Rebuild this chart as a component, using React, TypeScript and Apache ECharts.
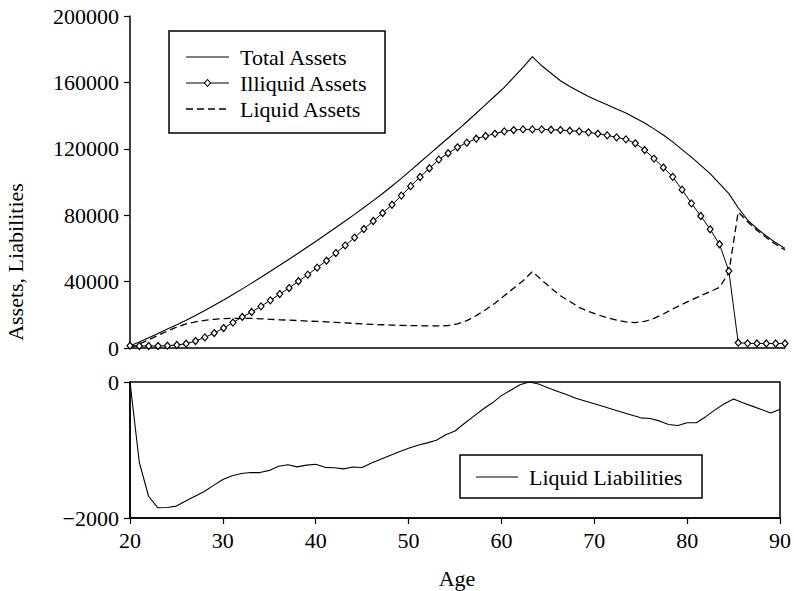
import React, { useEffect, useRef } from "react";
import * as echarts from "echarts";

const ages = [
  20, 21, 22, 23, 24, 25, 26, 27, 28, 29, 30, 31, 32, 33, 34, 35, 36, 37, 38, 39,
  40, 41, 42, 43, 44, 45, 46, 47, 48, 49, 50, 51, 52, 53, 54, 55, 56, 57, 58, 59,
  60, 61, 62, 63, 64, 65, 66, 67, 68, 69, 70, 71, 72, 73, 74, 75, 76, 77, 78, 79,
  80, 81, 82, 83, 84, 85, 86, 87, 88, 89, 90,
];

const totalAssets = [
  1400, 3600, 6200, 8800, 11400, 14000, 16700, 19600, 22600, 25700,
  28900, 32200, 35600, 39100, 42600, 46200, 49800, 53500, 57200, 61000,
  64800, 68700, 72600, 76500, 80500, 84600, 88800, 93100, 97600, 102200,
  107000, 111900, 116800, 121700, 126500, 131300, 136300, 141400, 146600, 151800,
  157000, 163000, 169000, 175500, 170000, 165500, 161000, 157500, 154500, 151500,
  149000, 146500, 144000, 141500, 138500, 135500, 132000, 128300, 124200, 119500,
  115000, 110000, 105000, 99000, 93000, 84500, 77000, 72000, 67500, 63500,
  60000,
];

const illiquidAssets = [
  1400, 1200, 1200, 1200, 1400, 1800, 2600, 4200, 6400, 9000,
  12000, 15300, 18700, 21700, 25100, 28700, 32500, 36100, 40200, 44200,
  48400, 52600, 57200, 61800, 66500, 71700, 76500, 81300, 86300, 91800,
  97500, 103000, 108300, 113500, 117300, 120900, 123700, 126100, 127700, 129100,
  130500, 131300, 131700, 131700, 131700, 131500, 131300, 130900, 130500, 129900,
  129100, 128100, 126900, 125700, 123300, 119300, 114100, 108700, 103100, 95400,
  87100, 79500, 71500, 62500, 46400, 3200, 2800, 2700, 2700, 2700,
  2700,
];

const liquidAssets = [
  0, 2400, 5000, 7600, 10200, 12600, 14500, 15800, 16700, 17300,
  17700, 17900, 17900, 17800, 17600, 17300, 17000, 16800, 16500, 16200,
  16000, 15700, 15400, 15100, 14800, 14500, 14200, 14000, 13800, 13600,
  13500, 13400, 13300, 13300, 13500, 14500, 16500, 19500, 23000, 27000,
  31500, 36000, 40500, 46000, 41000, 36000, 31500, 28000, 24500, 22000,
  20000, 18300, 16800, 15700, 15300, 16000, 17800, 20500, 23500, 26300,
  29000, 31500, 34000, 36500, 45500, 82000, 76000, 71000, 66500, 62500,
  59000,
];

const liquidLiabilities = [
  0, -1180, -1680, -1850, -1845, -1825, -1750, -1680, -1610, -1520,
  -1435, -1380, -1345, -1332, -1332, -1300, -1240, -1218, -1248, -1222,
  -1210, -1255, -1260, -1278, -1250, -1258, -1190, -1135, -1080, -1025,
  -975, -930, -895, -858, -775, -720, -610, -505, -400, -310,
  -200, -120, -40, 0, -30, -85, -135, -185, -240, -280,
  -320, -360, -405, -445, -485, -527, -537, -572, -625, -640,
  -600, -600, -510, -410, -320, -250, -305, -355, -405, -455,
  -400,
];

const topTicks = { min: 0, max: 200000, interval: 40000 };
const bottomTicks = { min: -2000, max: 0, interval: 2000 };
const ageTicks = { min: 20, max: 90, interval: 10 };

const seriesNames = ["Total Assets", "Illiquid Assets", "Liquid Assets", "Liquid Liabilities"];
const yAxisTitle = "Assets, Liabilities";
const xAxisTitle = "Age";

const FONT = "Liberation Serif";
const FS = 22;

const pair = (vals: number[]) => ages.map((a, i) => [a, vals[i]]);

export default function App() {
  const ref = useRef<HTMLDivElement>(null);
  useEffect(() => {
    if (!ref.current) return;
    const chart = echarts.init(ref.current, undefined, { renderer: "svg" });
    const axisLine = { show: true, onZero: false, lineStyle: { color: "#000", width: 1.5 } };
    const labelStyle = { color: "#000", fontFamily: FONT, fontSize: FS };
    const txt = (text: string, x: number, y: number, extra: any = {}) => ({
      type: "text",
      x,
      y,
      style: { text, fill: "#000", font: `${FS}px "${FONT}"`, verticalAlign: "middle", ...extra },
    });
    chart.setOption({
      animation: false,
      backgroundColor: "#fff",
      textStyle: { fontFamily: FONT },
      grid: [
        { left: 130, right: 9, top: 16, height: 332 },
        { left: 130, right: 9, top: 382, height: 136, show: true, borderColor: "#000", borderWidth: 1.5 },
      ],
      xAxis: [
        {
          gridIndex: 0, type: "value", ...ageTicks,
          axisLine, axisTick: { show: false }, axisLabel: { show: false }, splitLine: { show: false },
        },
        {
          gridIndex: 1, type: "value", ...ageTicks,
          axisLine,
          axisTick: { show: true, length: 6, lineStyle: { color: "#000", width: 1.2 } },
          axisLabel: { ...labelStyle, margin: 11, formatter: (v: number) => String(v) },
          splitLine: { show: false },
        },
      ],
      yAxis: [
        {
          gridIndex: 0, type: "value", ...topTicks,
          axisLine,
          axisTick: { show: true, length: 6, lineStyle: { color: "#000", width: 1.2 } },
          axisLabel: { ...labelStyle, margin: 11, formatter: (v: number) => String(v) },
          splitLine: { show: false },
        },
        {
          gridIndex: 1, type: "value", ...bottomTicks,
          axisLine,
          axisTick: { show: true, length: 6, lineStyle: { color: "#000", width: 1.2 } },
          axisLabel: {
            ...labelStyle, margin: 11,
            formatter: (v: number) => (v < 0 ? "\u2212" + Math.abs(v) : String(v)),
          },
          splitLine: { show: false },
        },
      ],
      series: [
        {
          name: seriesNames[0], type: "line", xAxisIndex: 0, yAxisIndex: 0,
          data: pair(totalAssets), symbol: "none",
          lineStyle: { color: "#000", width: 1.1 },
        },
        {
          name: seriesNames[1], type: "line", xAxisIndex: 0, yAxisIndex: 0,
          data: pair(illiquidAssets), symbol: "diamond", symbolSize: [6, 7],
          lineStyle: { color: "#000", width: 1 },
          itemStyle: { color: "#fff", borderColor: "#000", borderWidth: 1.2 },
        },
        {
          name: seriesNames[2], type: "line", xAxisIndex: 0, yAxisIndex: 0,
          data: pair(liquidAssets), symbol: "none",
          lineStyle: { color: "#000", width: 1.3, type: [7, 4] },
        },
        {
          name: seriesNames[3], type: "line", xAxisIndex: 1, yAxisIndex: 1,
          data: pair(liquidLiabilities), symbol: "none",
          lineStyle: { color: "#000", width: 1.1 },
        },
      ],
      graphic: [
        // legend, top panel
        { type: "rect", shape: { x: 169, y: 31, width: 216, height: 102 }, style: { fill: "#fff", stroke: "#000", lineWidth: 1.5 } },
        { type: "line", shape: { x1: 186, y1: 57, x2: 229, y2: 57 }, style: { stroke: "#000", lineWidth: 1.1 } },
        { type: "line", shape: { x1: 186, y1: 83, x2: 229, y2: 83 }, style: { stroke: "#000", lineWidth: 1 } },
        { type: "polygon", shape: { points: [[207.5, 79.5], [210.5, 83], [207.5, 86.5], [204.5, 83]] }, style: { fill: "#fff", stroke: "#000", lineWidth: 1.1 } },
        { type: "line", shape: { x1: 186, y1: 109, x2: 229, y2: 109 }, style: { stroke: "#000", lineWidth: 1.3, lineDash: [7, 4] } },
        txt(seriesNames[0], 240, 57),
        txt(seriesNames[1], 240, 83),
        txt(seriesNames[2], 240, 109),
        // legend, bottom panel
        { type: "rect", shape: { x: 460, y: 455, width: 242, height: 43 }, style: { fill: "#fff", stroke: "#000", lineWidth: 1.5 } },
        { type: "line", shape: { x1: 476, y1: 477, x2: 518, y2: 477 }, style: { stroke: "#000", lineWidth: 1.1 } },
        txt(seriesNames[3], 529, 477),
        // axis titles
        { ...txt(yAxisTitle, 15, 262, { align: "center" }), rotation: Math.PI / 2 },
        txt(xAxisTitle, 457, 578, { align: "center" }),
      ],
    });
    return () => chart.dispose();
  }, []);
  return (
    <div
      ref={ref}
      style={{ position: "absolute", left: 0, top: 0, width: 794, height: 591 }}
    />
  );
}
